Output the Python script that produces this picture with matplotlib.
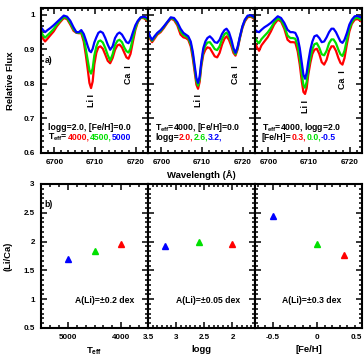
import matplotlib
matplotlib.use("Agg")
import matplotlib.pyplot as plt
from matplotlib.ticker import MultipleLocator, FuncFormatter
from matplotlib.offsetbox import TextArea, HPacker, AnchoredOffsetbox

plt.rcParams['font.family'] = ['Liberation Sans', 'DejaVu Sans']
plt.rcParams['font.weight'] = 'bold'
plt.rcParams['mathtext.default'] = 'bf'
plt.rcParams['mathtext.fontset'] = 'custom'
plt.rcParams['mathtext.bf'] = 'Liberation Sans:bold'

RED, GREEN, BLUE = '#ff0000', '#00e000', '#0000ff'

# ---------------- synthetic spectra (wavelength in Angstrom) ----------------
wavelength = [6696.7, 6697.2, 6697.7, 6698.3, 6699.0, 6699.8, 6700.6, 6701.4,
              6702.3, 6703.1, 6703.9, 6704.7, 6705.4, 6706.0, 6706.6, 6707.2,
              6707.7, 6708.2, 6708.6, 6709.0, 6709.4, 6709.8, 6710.3, 6710.8,
              6711.3, 6711.9, 6712.5, 6713.1, 6713.7, 6714.3, 6714.9, 6715.5,
              6716.0, 6716.6, 6717.2, 6717.7, 6718.2, 6718.7, 6719.3, 6719.9,
              6720.5, 6721.2, 6721.9, 6722.5, 6723.0]

# Teff series (logg=2.0, [Fe/H]=0.0)
flux_teff_4000 = [0.943, 0.931, 0.923, 0.931, 0.941, 0.952, 0.967, 0.979, 0.991,
                  0.988, 0.972, 0.954, 0.948, 0.947, 0.947, 0.923, 0.885, 0.841,
                  0.803, 0.788, 0.807, 0.856, 0.890, 0.906, 0.909, 0.902, 0.885,
                  0.867, 0.860, 0.875, 0.899, 0.912, 0.914, 0.906, 0.890, 0.877,
                  0.873, 0.887, 0.923, 0.957, 0.979, 0.991, 0.991, 0.986, 0.981]
flux_teff_4500 = [0.951, 0.941, 0.934, 0.941, 0.949, 0.959, 0.972, 0.983, 0.994,
                  0.991, 0.976, 0.958, 0.949, 0.948, 0.951, 0.932, 0.902, 0.868,
                  0.840, 0.830, 0.845, 0.882, 0.908, 0.923, 0.926, 0.920, 0.904,
                  0.884, 0.868, 0.886, 0.913, 0.925, 0.928, 0.921, 0.905, 0.895,
                  0.891, 0.903, 0.934, 0.962, 0.981, 0.992, 0.993, 0.989, 0.984]
flux_teff_5000 = [0.964, 0.956, 0.950, 0.956, 0.962, 0.970, 0.979, 0.988, 0.998,
                  0.995, 0.983, 0.964, 0.950, 0.950, 0.956, 0.945, 0.928, 0.909,
                  0.896, 0.892, 0.902, 0.920, 0.935, 0.948, 0.952, 0.948, 0.933,
                  0.914, 0.899, 0.909, 0.933, 0.945, 0.949, 0.943, 0.931, 0.921,
                  0.918, 0.928, 0.950, 0.970, 0.983, 0.993, 0.995, 0.993, 0.989]

# logg series (Teff=4000, [Fe/H]=0.0)
flux_logg_20 = [0.948, 0.931, 0.921, 0.931, 0.943, 0.950, 0.962, 0.976, 0.989,
                0.985, 0.970, 0.943, 0.935, 0.933, 0.928, 0.909, 0.875, 0.832,
                0.798, 0.786, 0.806, 0.851, 0.885, 0.899, 0.906, 0.904, 0.892,
                0.880, 0.877, 0.890, 0.914, 0.931, 0.938, 0.928, 0.909, 0.890,
                0.882, 0.899, 0.933, 0.962, 0.981, 0.993, 0.995, 0.991, 0.986]
flux_logg_26 = [0.951, 0.935, 0.925, 0.935, 0.946, 0.953, 0.965, 0.978, 0.991,
                0.988, 0.975, 0.952, 0.942, 0.938, 0.933, 0.916, 0.885, 0.842,
                0.808, 0.795, 0.814, 0.858, 0.895, 0.911, 0.920, 0.921, 0.912,
                0.901, 0.898, 0.909, 0.930, 0.944, 0.949, 0.939, 0.919, 0.897,
                0.886, 0.903, 0.936, 0.965, 0.984, 0.996, 0.997, 0.994, 0.989]
flux_logg_32 = [0.954, 0.938, 0.928, 0.938, 0.948, 0.956, 0.967, 0.979, 0.993,
                0.991, 0.979, 0.960, 0.948, 0.943, 0.938, 0.923, 0.894, 0.851,
                0.817, 0.803, 0.822, 0.865, 0.904, 0.923, 0.933, 0.938, 0.931,
                0.921, 0.919, 0.928, 0.945, 0.956, 0.960, 0.950, 0.928, 0.904,
                0.890, 0.906, 0.938, 0.967, 0.986, 0.998, 0.999, 0.996, 0.991]

# [Fe/H] series (Teff=4000, logg=2.0)
flux_feh_p03 = [0.919, 0.906, 0.896, 0.912, 0.923, 0.935, 0.952, 0.972, 0.986,
                0.981, 0.960, 0.928, 0.921, 0.921, 0.920, 0.894, 0.856, 0.807,
                0.777, 0.771, 0.788, 0.827, 0.861, 0.887, 0.899, 0.902, 0.887,
                0.863, 0.856, 0.870, 0.896, 0.909, 0.909, 0.896, 0.875, 0.861,
                0.856, 0.875, 0.916, 0.952, 0.974, 0.986, 0.988, 0.984, 0.979]
flux_feh_00 = [0.934, 0.924, 0.918, 0.930, 0.939, 0.949, 0.962, 0.978, 0.990,
               0.985, 0.967, 0.940, 0.933, 0.933, 0.931, 0.910, 0.875, 0.829,
               0.797, 0.789, 0.806, 0.842, 0.876, 0.901, 0.915, 0.918, 0.905,
               0.886, 0.883, 0.896, 0.918, 0.929, 0.929, 0.918, 0.899, 0.886,
               0.881, 0.896, 0.929, 0.960, 0.979, 0.990, 0.992, 0.988, 0.984]
flux_feh_m05 = [0.957, 0.952, 0.950, 0.957, 0.964, 0.970, 0.977, 0.986, 0.996,
                0.991, 0.977, 0.957, 0.950, 0.950, 0.948, 0.933, 0.904, 0.861,
                0.827, 0.815, 0.832, 0.865, 0.899, 0.923, 0.938, 0.941, 0.933,
                0.921, 0.923, 0.935, 0.950, 0.960, 0.960, 0.950, 0.935, 0.923,
                0.919, 0.928, 0.948, 0.972, 0.986, 0.996, 0.997, 0.994, 0.991]

# ---------------- Li/Ca line-depth ratios ----------------
teff_values = [5000, 4500, 4000]
ratio_teff = [1.70, 1.84, 1.96]
logg_values = [3.2, 2.6, 2.0]
ratio_logg = [1.92, 2.00, 1.96]
feh_values = [-0.5, 0.0, 0.3]
ratio_feh = [2.44, 1.96, 1.76]
series_colors = [BLUE, GREEN, RED]

li_wave, ca_wave = 6709.0, 6718.1

FS = 5.8
W, H = 364, 357
fig = plt.figure(figsize=(W / 100, H / 100), dpi=100)


def box(x0, y0, x1, y1):
    return [x0 / W, 1 - y1 / H, (x1 - x0) / W, (y1 - y0) / H]


def style(ax, xmaj, xmin, ymaj, ymin, fmt='{:g}'):
    ax.xaxis.set_major_locator(MultipleLocator(xmaj))
    ax.xaxis.set_minor_locator(MultipleLocator(xmin))
    ax.yaxis.set_major_locator(MultipleLocator(ymaj))
    ax.yaxis.set_minor_locator(MultipleLocator(ymin))
    ax.tick_params(which='both', direction='in', top=True, right=True,
                   width=1.1, labelsize=FS, pad=4.5)
    ax.tick_params(which='major', length=4)
    ax.tick_params(which='minor', length=2)
    f = FuncFormatter(lambda v, p: fmt.format(round(v, 6) + 0.0))
    ax.xaxis.set_major_formatter(f)
    ax.yaxis.set_major_formatter(f)
    for s in ax.spines.values():
        s.set_linewidth(1.5)


def colored_line(ax, x, y, parts):
    areas = [TextArea(t, textprops=dict(color=c, fontsize=FS + 0.4,
                                        fontweight='bold')) for t, c in parts]
    hp = HPacker(children=areas, align='baseline', pad=0, sep=0)
    ab = AnchoredOffsetbox(loc='center left', child=hp, pad=0, borderpad=0,
                           frameon=False, bbox_to_anchor=(x, y),
                           bbox_transform=ax.transAxes)
    ax.add_artist(ab)


top_edges = [(41, 148), (148, 255), (255, 362)]
spectra = [
    [(flux_teff_4000, RED), (flux_teff_4500, GREEN), (flux_teff_5000, BLUE)],
    [(flux_logg_20, RED), (flux_logg_26, GREEN), (flux_logg_32, BLUE)],
    [(flux_feh_p03, RED), (flux_feh_00, GREEN), (flux_feh_m05, BLUE)],
]
label_lines = [
    ([("logg=2.0, [Fe/H]=0.0", 'k')],
     [(r"T$_{eff}$=", 'k'), ("4000,", RED), ("4500,", GREEN), ("5000", BLUE)]),
    ([(r"T$_{eff}$=4000, [Fe/H]=0.0", 'k')],
     [("logg=", 'k'), ("2.0,", RED), ("2.6,", GREEN), ("3.2,", BLUE)]),
    ([(r"T$_{eff}$=4000, logg=2.0", 'k')],
     [("[Fe/H]=", 'k'), ("0.3,", RED), ("0.0,", GREEN), ("-0.5", BLUE)]),
]
li_top = [0.771, 0.771, 0.753]
ca_top = [0.855, 0.855, 0.840]

top_axes = []
for i, (x0, x1) in enumerate(top_edges):
    ax = fig.add_axes(box(x0, 8, x1, 153))
    for flux, col in spectra[i]:
        ax.plot(wavelength, flux, color=col, lw=1.6, solid_joinstyle='round')
    ax.set_xlim(6696.7, 6723.0)
    ax.set_ylim(0.6, 1.02)
    style(ax, 10, 10 / 6, 0.1, 0.1 / 6)
    if i > 0:
        ax.set_yticklabels([])
    ax.text(li_wave, li_top[i], "Li I", rotation=90, ha='center', va='top',
            fontsize=FS + 0.6, fontweight='bold')
    ax.text(ca_wave, ca_top[i], "Ca  I", rotation=90, ha='center', va='top',
            fontsize=FS + 0.6, fontweight='bold')
    l1, l2 = label_lines[i]
    colored_line(ax, 0.065, 0.175, l1)
    colored_line(ax, 0.065, 0.108, l2)
    top_axes.append(ax)

top_axes[0].text(0.035, 0.635, "a)", transform=top_axes[0].transAxes,
                 ha='left', va='center', fontsize=FS + 0.4, fontweight='bold')
top_axes[0].set_ylabel("Relative Flux", fontsize=FS + 1, fontweight='bold',
                       labelpad=6)
top_axes[1].set_xlabel("Wavelength (Å)", fontsize=FS + 1, fontweight='bold',
                       labelpad=3)

# ---------------- lower row ----------------
bottom_specs = [
    (teff_values, ratio_teff, (5500, 3500), 1000, 1000 / 6, r"T$_{eff}$",
     0.598, "A(Li)=±0.2 dex"),
    (logg_values, ratio_logg, (3.5, 1.6), 0.5, 0.5 / 6, "logg",
     0.565, "A(Li)=±0.05 dex"),
    (feh_values, ratio_feh, (-0.7, 0.5), 0.5, 0.5 / 6, "[Fe/H]",
     0.528, "A(Li)=±0.3 dex"),
]
bottom_axes = []
for i, (x0, x1) in enumerate(top_edges):
    xs, ys, xl, xmaj, xmin, xlab, tx, txt = bottom_specs[i]
    ax = fig.add_axes(box(x0, 184, x1, 328))
    for xv, yv, col in zip(xs, ys, series_colors):
        ax.plot([xv], [yv], marker='^', ms=4.6, color=col, mec=col,
                linestyle='none')
    ax.set_xlim(*xl)
    ax.set_ylim(0.5, 3.0)
    style(ax, xmaj, xmin, 0.5, 0.5 / 6)
    if i > 0:
        ax.set_yticklabels([])
    ax.set_xlabel(xlab, fontsize=FS + 1, fontweight='bold', labelpad=3)
    ax.text(tx, 0.194, txt, transform=ax.transAxes, ha='center', va='center',
            fontsize=FS + 0.4, fontweight='bold')
    bottom_axes.append(ax)

# keep the edge label of the last panel inside the canvas
fig.canvas.draw()
for lab in bottom_axes[2].get_xticklabels():
    if lab.get_text() == '0.5':
        lab.set_horizontalalignment('right')

bottom_axes[0].text(0.035, 0.855, "b)", transform=bottom_axes[0].transAxes,
                    ha='left', va='center', fontsize=FS + 0.4,
                    fontweight='bold')
bottom_axes[0].set_ylabel("(Li/Ca)", fontsize=FS + 1, fontweight='bold',
                          labelpad=8)

fig.savefig("out.png", dpi=100)
